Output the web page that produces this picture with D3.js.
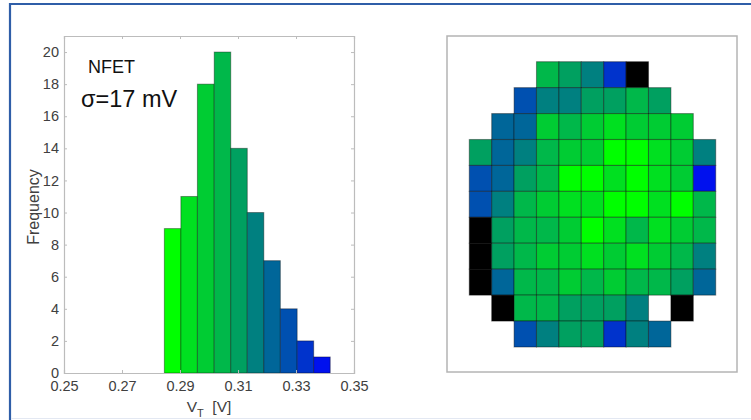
<!DOCTYPE html>
<html>
<head>
<meta charset="utf-8">
<script src="https://cdn.jsdelivr.net/npm/d3@7"></script>
<style>
  html, body { margin: 0; padding: 0; background: #fff; }
  svg { display: block; font-family: "Liberation Sans", Arial, sans-serif; }
</style>
</head>
<body>
<svg id="chart" width="751" height="420"></svg>
<script>
// Threshold-voltage histogram (bin edges in volts, die counts per bin)
const vtBinEdges = [0.2846, 0.2903, 0.2960, 0.3018, 0.3075, 0.3132, 0.3189, 0.3246, 0.3304, 0.3361, 0.3418];
const vtCounts = [9, 11, 18, 20, 14, 10, 7, 4, 2, 1];
const xTickValues = [0.25, 0.27, 0.29, 0.31, 0.33, 0.35];
const yTickValues = [0, 2, 4, 6, 8, 10, 12, 14, 16, 18, 20];

// Wafer map: histogram bin (1-10) of each die; 0 = no die, -1 = failed die
const waferRow0  = [ 0,  0, 0, 4, 5, 6, 9, -1, 0,  0,  0];
const waferRow1  = [ 0,  0, 8, 6, 6, 5, 5,  4, 5,  0,  0];
const waferRow2  = [ 0,  7, 7, 3, 4, 3, 2,  3, 3,  3,  0];
const waferRow3  = [ 5,  7, 6, 4, 3, 3, 1,  1, 2,  3,  6];
const waferRow4  = [ 8,  7, 5, 4, 1, 1, 2,  1, 2,  3, 10];
const waferRow5  = [ 8,  6, 4, 3, 2, 2, 1,  1, 2,  1,  4];
const waferRow6  = [-1,  5, 4, 4, 3, 1, 2,  4, 2,  3,  4];
const waferRow7  = [-1,  5, 4, 3, 3, 2, 3,  2, 3,  4,  6];
const waferRow8  = [-1,  7, 4, 4, 3, 4, 3,  4, 4,  5,  7];
const waferRow9  = [ 0, -1, 4, 4, 5, 5, 5,  6, 0, -1,  0];
const waferRow10 = [ 0,  0, 8, 6, 5, 5, 9,  6, 7,  0,  0];
const waferRows = [waferRow0, waferRow1, waferRow2, waferRow3, waferRow4, waferRow5,
                   waferRow6, waferRow7, waferRow8, waferRow9, waferRow10];

// Green-to-blue palette shared by the bars and the die cells
const palette = ["#00ff00", "#00e020", "#00cc33", "#00b84a", "#00a060",
                 "#008080", "#006699", "#0050b0", "#0033cc", "#0011ee"];
const binColor = d3.scaleOrdinal().domain(d3.range(1, 11)).range(palette);

const svg = d3.select("#chart");

// Slide frame
svg.append("path")
  .attr("d", "M10,420 L10,4 L751,4")
  .attr("fill", "none").attr("stroke", "#2f5ea8").attr("stroke-width", 2.2);
svg.append("line")
  .attr("x1", 11).attr("x2", 751).attr("y1", 418.5).attr("y2", 418.5)
  .attr("stroke", "#e3e8f2").attr("stroke-width", 1);

// ---------- Histogram ----------
const hx = d3.scaleLinear().domain([0.25, 0.35]).range([64, 354]);
const hy = d3.scaleLinear().domain([0, 21]).range([373, 36]);
const axisGrey = "#bcbcbc";
const labelGrey = "#404040";

const bins = vtCounts.map((c, i) => ({ x0: vtBinEdges[i], x1: vtBinEdges[i + 1], n: c, bin: i + 1 }));

const hist = svg.append("g");
hist.append("rect")
  .attr("x", hx(0.25)).attr("y", hy(21))
  .attr("width", hx(0.35) - hx(0.25)).attr("height", hy(0) - hy(21))
  .attr("fill", "#fff");

hist.selectAll("rect.bar").data(bins).join("rect")
  .attr("class", "bar")
  .attr("x", d => hx(d.x0)).attr("y", d => hy(d.n))
  .attr("width", d => hx(d.x1) - hx(d.x0)).attr("height", d => hy(0) - hy(d.n))
  .attr("fill", d => binColor(d.bin))
  .attr("stroke", "#000").attr("stroke-opacity", 0.38).attr("stroke-width", 1);

function styleAxis(g, showLabels) {
  g.select(".domain").attr("stroke", axisGrey).attr("stroke-width", 1.2);
  g.selectAll(".tick line").attr("stroke", axisGrey);
  g.selectAll(".tick text")
    .attr("fill", labelGrey)
    .style("font-size", "14.5px")
    .style("display", showLabels ? null : "none");
}

hist.append("g").attr("transform", `translate(0,${hy(0)})`)
  .call(d3.axisBottom(hx).tickValues(xTickValues).tickSize(-3).tickPadding(7.5)
        .tickFormat(d3.format(".2f")))
  .call(g => styleAxis(g, true));
hist.append("g").attr("transform", `translate(0,${hy(21)})`)
  .call(d3.axisTop(hx).tickValues(xTickValues).tickSize(-3))
  .call(g => styleAxis(g, false));
hist.append("g").attr("transform", `translate(${hx(0.25)},0)`)
  .call(d3.axisLeft(hy).tickValues(yTickValues).tickSize(-3).tickPadding(5))
  .call(g => styleAxis(g, true));
hist.append("g").attr("transform", `translate(${hx(0.35)},0)`)
  .call(d3.axisRight(hy).tickValues(yTickValues).tickSize(-3))
  .call(g => styleAxis(g, false));

// Axis titles
hist.append("text")
  .attr("transform", "translate(39,207) rotate(-90)")
  .attr("text-anchor", "middle")
  .attr("fill", labelGrey).style("font-size", "16px")
  .text("Frequency");

const xTitle = hist.append("text")
  .attr("x", 209).attr("y", 411.5)
  .attr("text-anchor", "middle")
  .attr("fill", labelGrey).style("font-size", "15.5px");
xTitle.append("tspan").text("V");
xTitle.append("tspan").attr("dy", 5).style("font-size", "11px").text("T");
xTitle.append("tspan").attr("dy", -5).text("\u00a0 [V]");

// Annotations
hist.append("text")
  .attr("x", 88).attr("y", 72.5)
  .attr("fill", "#111").style("font-size", "18px")
  .text("NFET");
hist.append("text")
  .attr("x", 81).attr("y", 106.5)
  .attr("fill", "#111").style("font-size", "23.5px")
  .text("\u03c3=17 mV");

// ---------- Wafer map ----------
svg.append("rect")
  .attr("x", 447).attr("y", 36).attr("width", 290).attr("height", 336)
  .attr("fill", "#fff").attr("stroke", "#b4b4b4").attr("stroke-width", 1.5);

const wx = d3.scaleBand().domain(d3.range(11)).range([469.3, 715.7]);
const wy = d3.scaleBand().domain(d3.range(11)).range([61.7, 347]);

const dies = [];
waferRows.forEach((row, r) => row.forEach((v, c) => {
  if (v !== 0) dies.push({ r, c, v });
}));

svg.append("g").selectAll("rect").data(dies).join("rect")
  .attr("x", d => wx(d.c)).attr("y", d => wy(d.r))
  .attr("width", wx.bandwidth()).attr("height", wy.bandwidth())
  .attr("fill", d => d.v < 0 ? "#000" : binColor(d.v))
  .attr("stroke", "#000").attr("stroke-opacity", 0.38).attr("stroke-width", 1.1);
</script>
</body>
</html>
